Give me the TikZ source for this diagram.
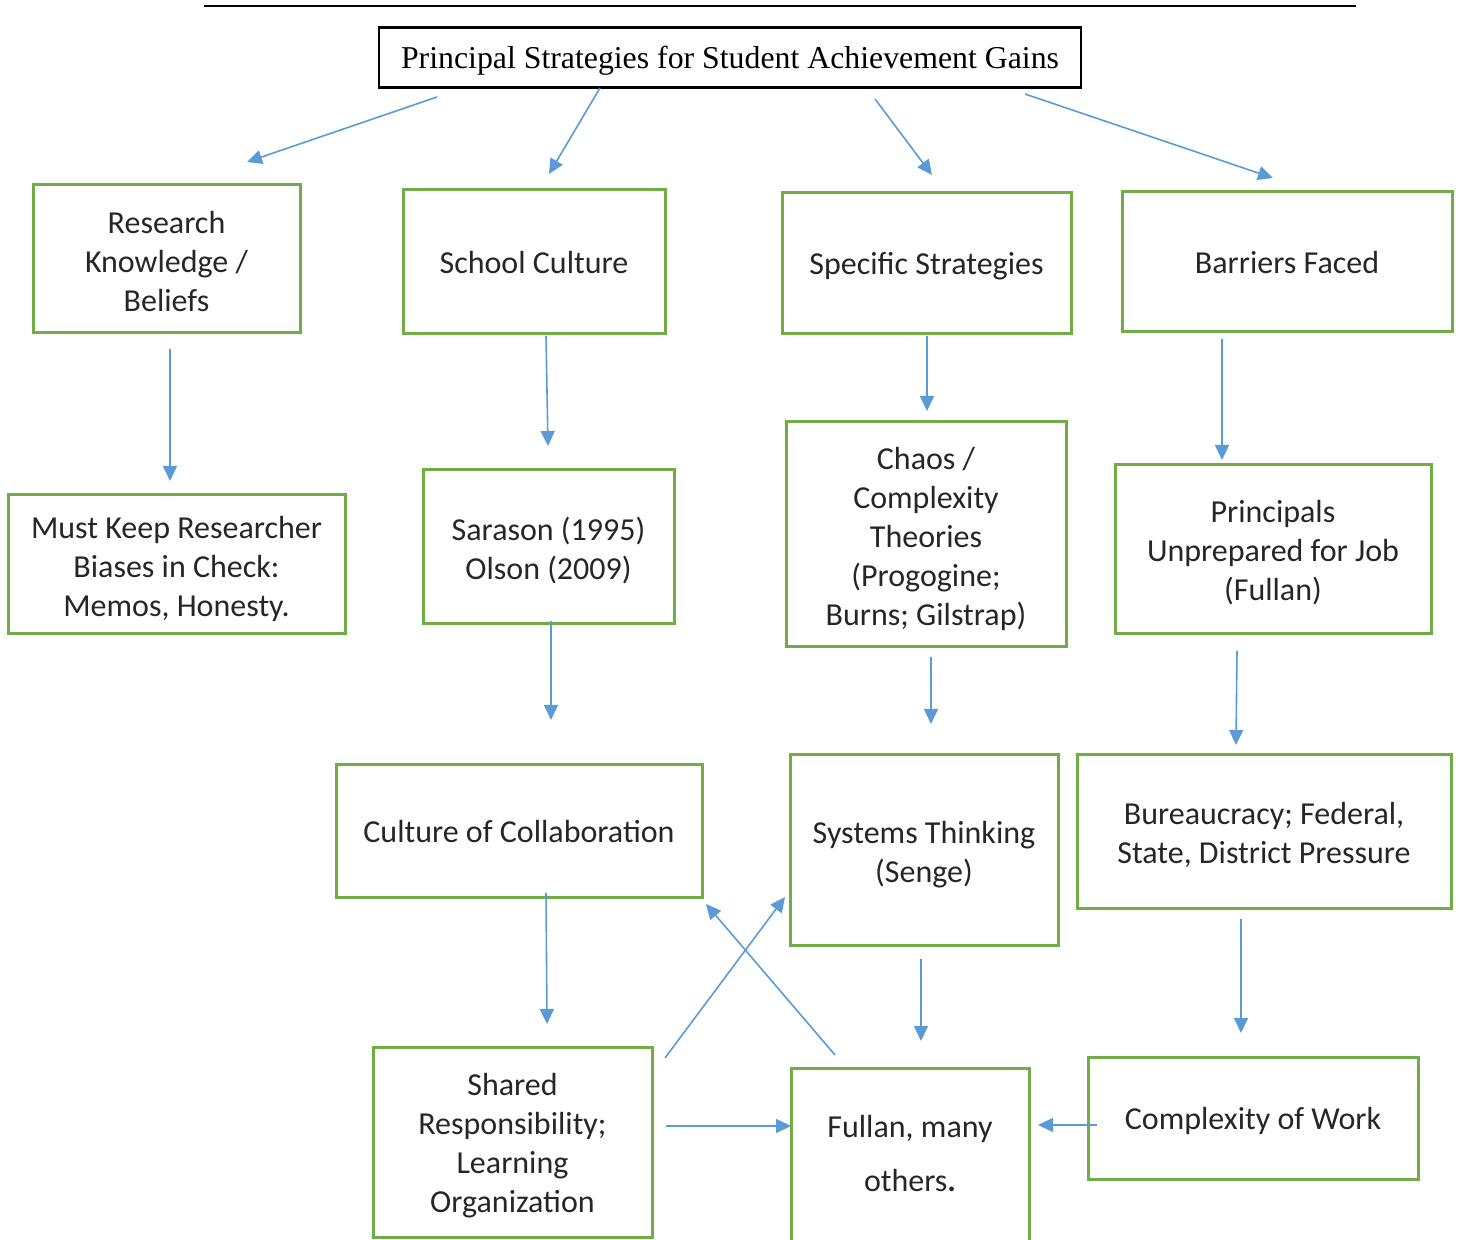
\documentclass[tikz,border=0pt]{standalone}
\usepackage{fontspec}
\setmainfont{Carlito}
\newfontfamily\titlefont{Liberation Serif}
\usetikzlibrary{arrows.meta}
\definecolor{bgreen}{HTML}{70AD47}
\definecolor{ablue}{HTML}{5B9BD5}
\definecolor{txt}{HTML}{262626}
\tikzset{
  box/.style={draw=bgreen, line width=1.5pt, inner sep=0pt, align=center, text=txt,
    font=\fontsize{16}{19.5}\selectfont,
    execute at begin node={\rule{0pt}{15.5pt}},
    execute at end node={\rule[-4pt]{0pt}{0pt}}},
  plainbox/.style={draw=bgreen, line width=1.5pt, inner sep=0pt},
  boxtext/.style={inner sep=0pt, align=center, text=txt,
    font=\fontsize{16}{19.5}\selectfont},
  titlebox/.style={draw=black, line width=1.25pt, inner sep=0pt,
    font=\titlefont\fontsize{15.9}{20}\selectfont,
    execute at begin node={\rule{0pt}{15pt}},
    execute at end node={\rule[-4pt]{0pt}{0pt}}},
  conn/.style={draw=ablue, line width=0.8pt, -{Triangle[length=7.5pt,width=7pt]}},
}
\begin{document}
\begin{tikzpicture}[x=0.5pt,y=-0.5pt]
\useasboundingbox (0,0) rectangle (1458,1240);
\coordinate (tl1) at (204,6); \coordinate (tl2) at (1356,6);
\draw[line width=1pt] (tl1) -- (tl2);
\node[titlebox, minimum width=351pt, minimum height=30pt] (title) at (730,57.5) {Principal Strategies for Student Achievement Gains};

% single-line boxes
\node[box, minimum width=131pt, minimum height=72pt] (sc) at (534,262) {School Culture};
\node[box, minimum width=144.5pt, minimum height=70.5pt] (ss) at (926.5,263.5) {Specific Strategies};
\node[box, minimum width=165pt, minimum height=70pt] (bf) at (1287,262) {Barriers Faced};
\node[box, minimum width=183pt, minimum height=66.5pt] (cc) at (519,831.5) {Culture of Collaboration};
\node[box, minimum width=165pt, minimum height=61pt] (cw) at (1253,1118) {Complexity of Work};

% multi-line boxes: frame + text
\node[plainbox, minimum width=133.5pt, minimum height=74pt] (rk) at (166.5,259) {};
\node[boxtext] (rkt) at (166.5,262) {Research\\Knowledge /\\Beliefs};
\node[plainbox, minimum width=168.5pt, minimum height=69.5pt] (mk) at (176.5,564.5) {};
\node[boxtext] (mkt) at (176.5,568.5) {Must Keep Researcher\\Biases in Check:\\Memos, Honesty.};
\node[plainbox, minimum width=125.5pt, minimum height=77pt] (sa) at (548.5,547) {};
\node[boxtext] (sat) at (548.5,551) {Sarason (1995)\\Olson (2009)};
\node[plainbox, minimum width=140pt, minimum height=112.5pt] (ch) at (926,534.5) {};
\node[boxtext] (cht) at (926,538.5) {Chaos /\\Complexity\\Theories\\(Progogine;\\Burns; Gilstrap)};
\node[plainbox, minimum width=158pt, minimum height=84.5pt] (pr) at (1273,549.5) {};
\node[boxtext] (prt) at (1273,552.5) {Principals\\Unprepared for Job\\(Fullan)};
\node[plainbox, minimum width=134pt, minimum height=95.5pt] (st) at (924,850.5) {};
\node[boxtext] (stt) at (924,854.5) {Systems Thinking\\(Senge)};
\node[plainbox, minimum width=187pt, minimum height=77pt] (bu) at (1264,832) {};
\node[boxtext] (but) at (1264,834.5) {Bureaucracy; Federal,\\State, District Pressure};
\node[plainbox, minimum width=139.5pt, minimum height=95pt] (sh) at (512.5,1142) {};
\node[boxtext] (sht) at (512.5,1146) {Shared\\Responsibility;\\Learning\\Organization};
\node[plainbox, minimum width=119pt, minimum height=96pt] (fu) at (910,1164) {};
\node[boxtext, font=\fontsize{16}{27}\selectfont] (fut) at (910,1153.5) {Fullan, many\\others{\bfseries .}};

% connectors
\coordinate (a1s) at (437,97);  \coordinate (a1e) at (247,162);
\coordinate (a2s) at (600,88);  \coordinate (a2e) at (549,174);
\coordinate (a3s) at (875,99);  \coordinate (a3e) at (932,175);
\coordinate (a4s) at (1025,94); \coordinate (a4e) at (1273,178);
\coordinate (a5s) at (170,349); \coordinate (a5e) at (170,481);
\coordinate (a6s) at (546,336); \coordinate (a6e) at (548,446);
\coordinate (a7s) at (927,336); \coordinate (a7e) at (927,411);
\coordinate (a8s) at (1222,339); \coordinate (a8e) at (1222,460);
\coordinate (a9s) at (551,621); \coordinate (a9e) at (551,720);
\coordinate (a10s) at (931,657); \coordinate (a10e) at (931,724);
\coordinate (a11s) at (1237,651); \coordinate (a11e) at (1236,745);
\coordinate (a12s) at (546,893); \coordinate (a12e) at (547,1024);
\coordinate (a13s) at (921,959); \coordinate (a13e) at (921,1041);
\coordinate (a14s) at (1241,919); \coordinate (a14e) at (1241,1033);
\coordinate (a15s) at (665,1058); \coordinate (a15e) at (785,897);
\coordinate (a16s) at (835,1055); \coordinate (a16e) at (706,904);
\coordinate (a17s) at (666,1126); \coordinate (a17e) at (791,1126);
\coordinate (a18s) at (1097,1125); \coordinate (a18e) at (1038,1125);
\foreach \i in {1,...,18} {\draw[conn] (a\i s) -- (a\i e);}
\end{tikzpicture}
\end{document}
